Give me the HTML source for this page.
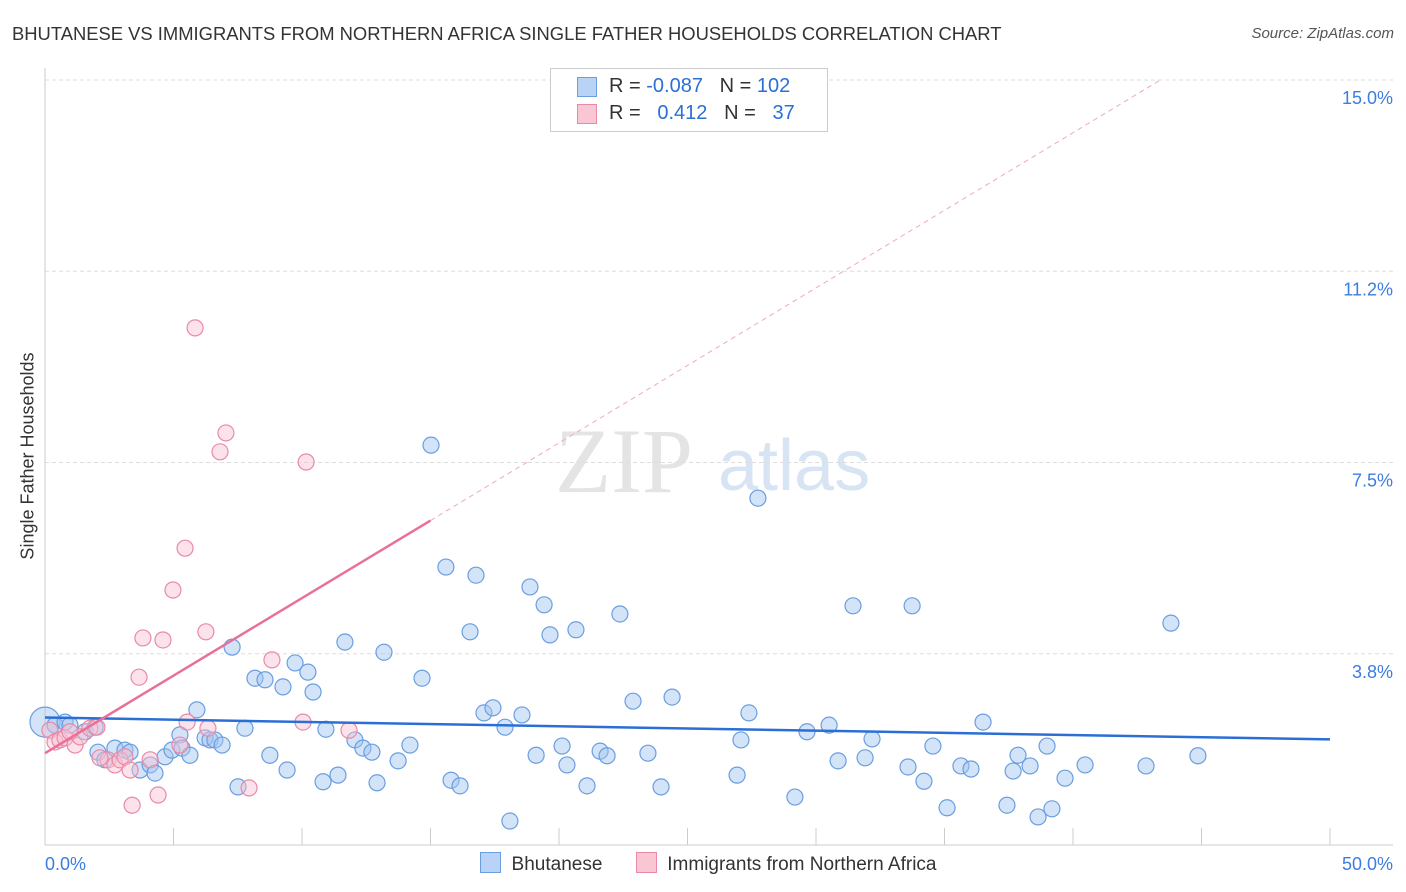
<!DOCTYPE html>
<html><head><meta charset="utf-8"><style>
body{margin:0;background:#fff;font-family:"Liberation Sans",sans-serif;}
#wrap{position:relative;width:1406px;height:892px;overflow:hidden}
.t{position:absolute;white-space:nowrap}
</style></head><body><div id="wrap">
<div class="t" style="left:12px;top:23px;font-size:18.4px;color:#333">BHUTANESE VS IMMIGRANTS FROM NORTHERN AFRICA SINGLE FATHER HOUSEHOLDS CORRELATION CHART</div>
<div class="t" style="right:12px;top:25px;font-size:15px;color:#555;font-style:italic">Source: ZipAtlas.com</div>
<div class="t" style="left:28px;top:456px;transform:translate(-50%,-50%) rotate(-90deg);font-size:18px;color:#333">Single Father Households</div>
<svg id="svg" width="1406" height="892" style="position:absolute;left:0;top:0"></svg>
<div class="t" style="left:550px;top:68px;width:276px;height:62px;border:1px solid #ccc;background:#fff;font-size:20px">
 <div style="position:absolute;left:26px;top:8px;width:18px;height:18px;background:#b8d3f5;border:1px solid #6a9ee0"></div>
 <div class="t" style="left:58px;top:6px;color:#333">R = <span style="color:#2b6fd6">-0.087</span>&nbsp;&nbsp;&nbsp;N = <span style="color:#2b6fd6">102</span></div>
 <div style="position:absolute;left:26px;top:35px;width:18px;height:18px;background:#f9c6d4;border:1px solid #e88aa6"></div>
 <div class="t" style="left:58px;top:33px;color:#333">R = &nbsp;&nbsp;<span style="color:#2b6fd6">0.412</span>&nbsp;&nbsp;&nbsp;N = &nbsp;&nbsp;<span style="color:#2b6fd6">37</span></div>
</div>
<div class="t" style="left:480px;top:852px;font-size:19px;color:#333">
 <span style="display:inline-block;width:19px;height:19px;background:#b8d3f5;border:1px solid #6a9ee0;vertical-align:-3px"></span>&nbsp;&nbsp;Bhutanese
 <span style="display:inline-block;width:19px;height:19px;background:#f9c6d4;border:1px solid #e88aa6;vertical-align:-3px;margin-left:28px"></span>&nbsp;&nbsp;Immigrants from Northern Africa
</div>
</div>
<script>
const xTicks=[0,5,10,15,20,25,30,35,40,45,50];
const yTicks=[3.75,7.5,11.25,15];
const yTickLabels=["3.8%","7.5%","11.2%","15.0%"];
const blueX=[0,0.39,0.78,0.97,1.56,1.95,2.06,2.33,2.72,3.11,3.31,3.70,4.09,4.28,4.67,4.94,5.25,5.33,5.64,5.91,6.23,6.42,6.61,6.89,7.28,7.51,7.78,8.17,8.56,8.75,9.26,9.42,9.73,10.23,10.43,10.82,10.93,11.40,11.67,12.06,12.37,12.72,12.92,13.19,13.74,14.20,14.67,15.02,15.60,15.80,16.15,16.54,16.77,17.08,17.43,17.90,18.09,18.56,18.87,19.11,19.42,19.65,20.12,20.31,20.66,21.09,21.60,21.87,22.37,22.88,23.46,23.97,24.40,26.93,27.08,27.39,27.74,29.18,29.65,30.51,30.86,31.44,31.91,32.18,33.58,33.74,34.20,34.55,35.10,35.64,36.03,36.50,37.43,37.67,37.86,38.33,38.64,38.99,39.18,39.69,40.47,42.84,43.81,44.86];
const blueY=[2.41,2.35,2.41,2.35,2.22,2.31,1.82,1.67,1.90,1.86,1.82,1.47,1.57,1.41,1.73,1.86,2.16,1.90,1.76,2.65,2.10,2.06,2.06,1.96,3.88,1.14,2.29,3.27,3.24,1.76,3.10,1.47,3.57,3.39,3.00,1.24,2.27,1.37,3.98,2.06,1.90,1.82,1.22,3.78,1.65,1.96,3.27,7.84,5.45,1.27,1.16,4.18,5.29,2.59,2.69,2.31,0.47,2.55,5.06,1.76,4.71,4.12,1.94,1.57,4.22,1.16,1.84,1.75,4.53,2.82,1.80,1.14,2.90,1.37,2.06,2.59,6.80,0.94,2.22,2.35,1.65,4.69,1.71,2.08,1.53,4.69,1.25,1.94,0.73,1.55,1.49,2.41,0.78,1.45,1.76,1.55,0.55,1.94,0.71,1.31,1.57,1.55,4.35,1.75];
const pinkX=[0.19,0.39,0.58,0.78,1.17,1.36,1.75,2.02,2.45,2.72,2.92,3.11,3.31,3.39,3.66,3.81,4.40,4.59,4.98,5.25,5.45,5.53,5.84,6.26,6.34,6.81,7.04,7.94,8.83,10.04,10.16,11.83,4.09,2.14,0.97];
const pinkY=[2.25,2.02,2.06,2.10,1.96,2.12,2.29,2.31,1.67,1.57,1.67,1.73,1.47,0.78,3.29,4.06,0.98,4.02,5.0,1.96,5.82,2.41,10.14,4.18,2.29,7.71,8.08,1.12,3.63,2.41,7.51,2.25,1.67,1.71,2.22];
const blueTrend=[2.5,2.07];
const pinkTrend=[1.8,15];
const X0=45,X1=1330,Y0=845,Y1=80;
const sx=v=>X0+(X1-X0)*v/50, sy=v=>Y0-(Y0-Y1)*v/15;
const svg=document.getElementById('svg');const NS='http://www.w3.org/2000/svg';
function mk(tag,attrs,name){const e=document.createElementNS(NS,tag);for(const k in attrs)e.setAttribute(k,attrs[k]);


svg.appendChild(e);return e;}
let w=mk('text',{x:555,y:492,'font-size':92,'font-family':'Liberation Serif, serif',fill:'#e4e4e4'},'watermark-zip');w.textContent='ZIP';
w=mk('text',{x:718,y:490,'font-size':72,'font-family':'Liberation Sans, sans-serif',fill:'#d7e4f4'},'watermark-atlas');w.textContent='atlas';
yTicks.forEach((v,i)=>{mk('line',{x1:X0,x2:1393,y1:sy(v),y2:sy(v),stroke:'#ddd','stroke-dasharray':'4,3'},'y-gridline');
const t=mk('text',{x:1393,y:sy(v)+24,'text-anchor':'end','font-size':18,fill:'#3b7de0','font-family':'Liberation Sans, sans-serif'},'y-tick-label');t.textContent=yTickLabels[i];});
mk('line',{x1:X0,x2:X0,y1:68,y2:Y0,stroke:'#ccc'},'y-axis');
mk('line',{x1:X0,x2:1393,y1:Y0,y2:Y0,stroke:'#ccc'},'x-axis');
xTicks.forEach(v=>mk('line',{x1:sx(v),x2:sx(v),y1:Y0,y2:Y0-17,stroke:'#ccc'},'x-tick'));
let t=mk('text',{x:45,y:870,'font-size':18,fill:'#3b7de0','font-family':'Liberation Sans, sans-serif'},'x-tick-label-min');t.textContent='0.0%';
t=mk('text',{x:1393,y:870,'text-anchor':'end','font-size':18,fill:'#3b7de0','font-family':'Liberation Sans, sans-serif'},'x-tick-label-max');t.textContent='50.0%';
blueX.forEach((x,i)=>mk('circle',{cx:sx(x),cy:sy(blueY[i]),r:i==0?15:8,fill:'rgba(160,195,240,0.45)',stroke:'#6a9ee0','stroke-width':1.2},'bhutanese-point'));
pinkX.forEach((x,i)=>mk('circle',{cx:sx(x),cy:sy(pinkY[i]),r:8,fill:'rgba(249,190,208,0.45)',stroke:'#e88aa6','stroke-width':1.2},'immigrant-point'));
mk('line',{x1:sx(0),y1:sy(blueTrend[0]),x2:sx(50),y2:sy(blueTrend[1]),stroke:'#2b6fd6','stroke-width':2.5},'bhutanese-trendline');
const pe=x=>pinkTrend[0]+(pinkTrend[1]-pinkTrend[0])*x/43.4;
mk('line',{x1:sx(0),y1:sy(pe(0)),x2:sx(15),y2:sy(pe(15)),stroke:'#e8709a','stroke-width':2.5},'immigrant-trendline');
mk('line',{x1:sx(15),y1:sy(pe(15)),x2:sx(43.4),y2:sy(pe(43.4)),stroke:'#f0a8c0','stroke-width':1,'stroke-dasharray':'5,4'},'immigrant-trendline-extension');
</script></body></html>
